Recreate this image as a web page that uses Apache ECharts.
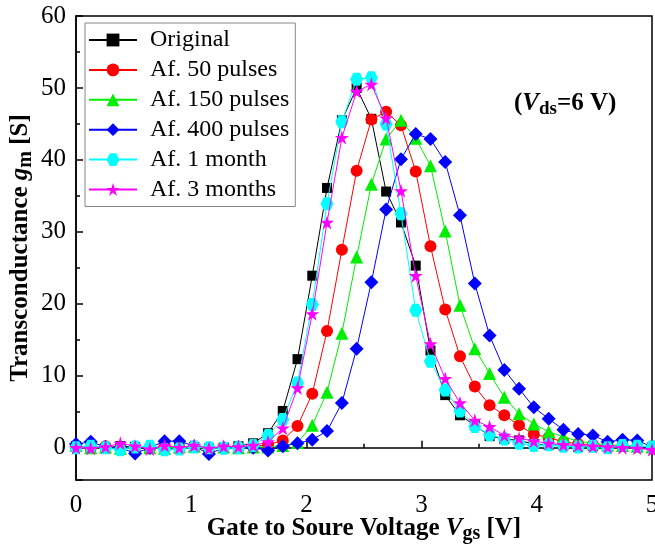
<!DOCTYPE html>
<html>
<head>
<meta charset="utf-8">
<script src="https://cdn.jsdelivr.net/npm/echarts@6/dist/echarts.min.js"></script>
<style>
html,body{margin:0;padding:0;background:#fff;}
#chart{width:655px;height:549px;}
</style>
</head>
<body>
<div id="chart"></div>
<script>
// Gate-source voltage sample points (V)
var vgs = [0, 0.128, 0.256, 0.385, 0.513, 0.641, 0.769, 0.897, 1.026, 1.154,
  1.282, 1.410, 1.538, 1.667, 1.795, 1.923, 2.051, 2.179, 2.308, 2.436,
  2.564, 2.692, 2.821, 2.949, 3.077, 3.205, 3.333, 3.462, 3.590, 3.718,
  3.846, 3.974, 4.103, 4.231, 4.359, 4.487, 4.615, 4.744, 4.872, 5.0];

var seriesNames = ['Original', 'Af. 50 pulses', 'Af. 150 pulses', 'Af. 400 pulses', 'Af. 1 month', 'Af. 3 months'];

var gmOriginal = [0.2, 0.1, -0.1, 0.2, 0.1, -0.2, 0.0, 0.2, 0.1, -0.1,
  0.0, 0.2, 0.6, 2.0, 5.1, 12.3, 23.9, 36.1, 45.5, 50.0,
  45.7, 35.6, 31.3, 25.3, 13.5, 7.3, 4.5, 3.1, 1.6, 1.2,
  1.0, 0.5, 0.4, 0.3, 0.1, 0.2, 0.1, 0.2, 0.1, 0.0];
var gm50 = [0.1, 0.0, 0.2, 0.0, 0.1, -0.1, 0.2, 0.0, 0.1, -0.1,
  0.0, 0.1, 0.2, 0.4, 1.0, 3.0, 7.5, 16.2, 27.5, 38.5,
  45.6, 46.7, 44.8, 38.4, 28.0, 19.2, 12.7, 8.5, 5.9, 4.5,
  3.1, 1.85, 1.4, 0.8, 0.5, 0.4, 0.2, 0.3, 0.1, 0.2];
var gm150 = [0.3, 0.0, 0.1, -0.1, 0.2, 0.0, -0.1, 0.1, 0.2, 0.0,
  0.1, 0.0, 0.1, 0.1, 0.3, 0.7, 3.1, 7.7, 15.9, 26.5,
  36.6, 42.9, 45.5, 43.0, 39.2, 30.1, 19.8, 13.75, 10.3, 7.0,
  4.7, 3.3, 2.2, 1.5, 0.9, 0.6, 0.4, 0.3, 0.2, 0.1];
var gm400 = [0.5, 0.8, 0.1, 0.0, -0.8, 0.0, 0.9, 0.9, 0.2, -0.9,
  0.0, 0.1, 0.0, -0.4, 0.2, 0.6, 1.1, 2.3, 6.2, 13.75,
  23.0, 33.1, 40.1, 43.6, 42.9, 39.7, 32.3, 22.8, 15.6, 10.8,
  8.2, 5.6, 4.0, 2.5, 1.9, 1.7, 0.8, 1.1, 1.0, 0.1];
var gm1month = [0.0, 0.2, 0.0, -0.3, 0.1, 0.2, -0.3, -0.2, 0.1, 0.0,
  -0.1, 0.0, 0.3, 1.7, 3.9, 9.0, 19.9, 33.9, 45.3, 51.2,
  51.4, 45.0, 32.5, 19.1, 12.0, 8.0, 5.1, 2.95, 1.8, 1.2,
  0.6, 0.3, 0.4, 0.2, 0.1, 0.2, 0.0, 0.3, 0.2, 0.1];
var gm3months = [0.0, -0.1, 0.1, 0.6, 0.2, -0.2, 0.3, 0.0, 0.3, -0.1,
  0.2, 0.1, 0.3, 0.8, 2.7, 8.3, 18.6, 31.3, 43.1, 49.5,
  50.5, 45.8, 35.7, 23.9, 14.4, 9.6, 6.2, 3.8, 2.9, 1.7,
  1.3, 0.9, 0.6, 0.4, 0.3, 0.2, 0.1, 0.0, -0.1, -0.3];

var xTicks = [0, 1, 2, 3, 4, 5];
var yTicks = [0, 10, 20, 30, 40, 50, 60];

var allValues = [gmOriginal, gm50, gm150, gm400, gm1month, gm3months];
var colors = ['#000000', '#ff0000', '#00ee00', '#0000ff', '#00ffff', '#ff00ff'];
var hexPath = 'path://M25,0 L75,0 L100,43.3 L75,86.6 L25,86.6 L0,43.3 Z';
var starPath = 'path://M50,0 L61.2,34.5 L97.6,34.5 L68.2,55.9 L79.4,90.5 L50,69.1 L20.6,90.5 L31.8,55.9 L2.4,34.5 L38.8,34.5 Z';
var symbols = ['rect', 'circle', 'triangle', 'diamond', hexPath, starPath];
var sizes = [10, 12, 13, 14, 13, 14];

function pairs(vals) {
  return vgs.map(function (x, i) { return [x, vals[i]]; });
}

var serif = 'Liberation Serif, Times New Roman, serif';
var chart = echarts.init(document.getElementById('chart'), null, {renderer: 'canvas'});

var series = seriesNames.map(function (name, k) {
  return {
    name: name,
    type: 'line',
    data: pairs(allValues[k]),
    symbol: symbols[k],
    symbolSize: sizes[k],
    showAllSymbol: true,
    itemStyle: {color: colors[k]},
    lineStyle: {color: colors[k], width: 1},
    z: 2 + k,
    animation: false
  };
});

chart.setOption({
  backgroundColor: '#ffffff',
  animation: false,
  grid: {left: 76, right: 3, top: 16, bottom: 69, show: true, borderColor: '#000', borderWidth: 1.5,
    backgroundColor: 'transparent', containLabel: false, outerBoundsMode: 'none'},
  legend: {
    orient: 'vertical',
    left: 85, top: 23,
    padding: [5, 6, 5, 3],
    itemWidth: 48, itemHeight: 16,
    itemGap: 5.9,
    backgroundColor: '#fff',
    borderColor: '#888', borderWidth: 1,
    data: seriesNames,
    textStyle: {fontFamily: serif, fontSize: 24, color: '#000', lineHeight: 22, padding: [0, 0, 0, 8]}
  },
  xAxis: {
    type: 'value', min: 0, max: 5, interval: 1,
    axisLine: {lineStyle: {color: '#000', width: 1.5}},
    axisTick: {inside: true, length: 7, lineStyle: {color: '#000', width: 1.5}},
    minorTick: {show: true, splitNumber: 2, length: 4, lineStyle: {color: '#000', width: 1.5}},
    splitLine: {show: false},
    axisLabel: {fontFamily: serif, fontSize: 25, color: '#000', margin: 13,
      formatter: function (v) { return xTicks.indexOf(v) >= 0 ? String(v) : ''; }},
    name: '{b|Gate to Soure Voltage }{i|V}{s|gs}{b| [V]}',
    nameLocation: 'middle', nameGap: 34, nameMoveOverlap: false,
    nameTextStyle: {
      fontFamily: serif, fontSize: 25, fontWeight: 'bold', color: '#000',
      rich: {
        b: {fontFamily: serif, fontSize: 25, fontWeight: 'bold', color: '#000'},
        i: {fontFamily: serif, fontSize: 25, fontWeight: 'bold', fontStyle: 'italic', color: '#000'},
        s: {fontFamily: serif, fontSize: 20, fontWeight: 'bold', color: '#000', padding: [10, 0, 0, 0]}
      }
    }
  },
  yAxis: {
    type: 'value', min: -4.5, max: 60, splitNumber: 6,
    axisLine: {lineStyle: {color: '#000', width: 1.5}},
    axisTick: {inside: true, length: 7, lineStyle: {color: '#000', width: 1.5}},
    minorTick: {show: true, splitNumber: 2, length: 4, lineStyle: {color: '#000', width: 1.5}},
    splitLine: {show: false},
    axisLabel: {fontFamily: serif, fontSize: 25, color: '#000', margin: 10, showMinLabel: false,
      formatter: function (v) { return yTicks.indexOf(v) >= 0 ? String(v) : ''; }},
    name: '{b|Transconductance }{i|g}{s|m}{b| [S]}',
    nameLocation: 'middle', nameGap: 40, nameRotate: 90, nameMoveOverlap: false,
    nameTextStyle: {
      fontFamily: serif, fontSize: 25, fontWeight: 'bold', color: '#000',
      rich: {
        b: {fontFamily: serif, fontSize: 25, fontWeight: 'bold', color: '#000'},
        i: {fontFamily: serif, fontSize: 25, fontWeight: 'bold', fontStyle: 'italic', color: '#000'},
        s: {fontFamily: serif, fontSize: 20, fontWeight: 'bold', color: '#000', padding: [10, 0, 0, 0]}
      }
    }
  },
  graphic: [{
    type: 'text',
    left: 514, top: 91,
    z: 100,
    style: {
      text: '{b|(}{i|V}{s|ds}{b|=6 V)}',
      rich: {
        b: {fontFamily: serif, fontSize: 25, fontWeight: 'bold', fill: '#000'},
        i: {fontFamily: serif, fontSize: 25, fontWeight: 'bold', fontStyle: 'italic', fill: '#000'},
        s: {fontFamily: serif, fontSize: 19, fontWeight: 'bold', fill: '#000', padding: [12, 0, 0, 0]}
      }
    }
  }],
  series: series
});
</script>
</body>
</html>
